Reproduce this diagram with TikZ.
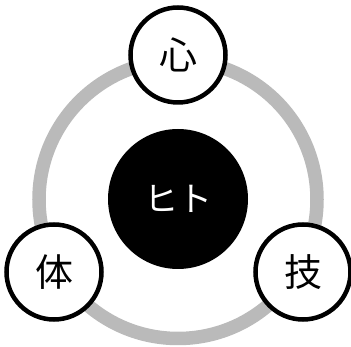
\documentclass[tikz,border=0pt]{standalone}
\usepackage{fontspec}
\newfontfamily\jpfont{Noto Sans CJK JP}

\begin{document}
\begin{tikzpicture}[x=1pt,y=-1pt]
% ------------------------------------------------ theme colors
\definecolor{ring_gray}{RGB}{186,186,186} %#BABABA

\tikzset{
  aspect/.style={circle,draw=black,line width=4.5pt,fill=white,
    minimum size=95pt,inner sep=0pt,font=\jpfont\fontsize{38}{38}\selectfont},
  core/.style={circle,fill=black,minimum size=140pt,inner sep=0pt,
    text=white,font=\jpfont\fontsize{34}{34}\selectfont}
}

\useasboundingbox (0,0) rectangle (351,347);

% ------------------------------------------------ ring
\draw [line width=13.5pt,color=ring_gray] (178,199.5) circle (139pt);

% ------------------------------------------------ center and aspects
\node[core] (hito) at (178,199) {ヒト};

\node[aspect] (kokoro) at (178,55)  {心};
\node[aspect] (karada) at (54,272)  {体};
\node[aspect] (waza)   at (303,272) {技};

\end{tikzpicture}
\end{document}
